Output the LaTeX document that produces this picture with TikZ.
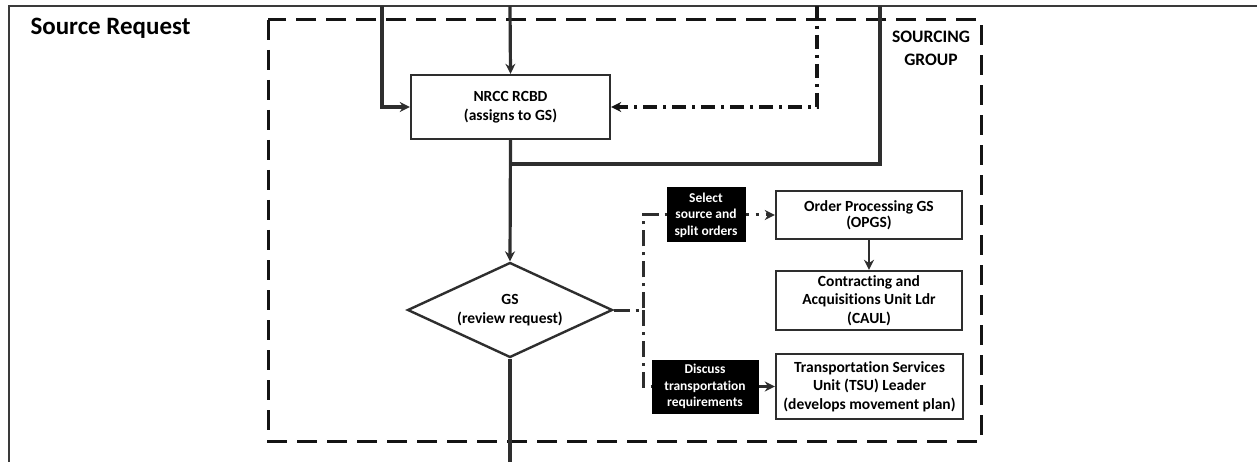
\documentclass[tikz,border=0pt]{standalone}
\usepackage{fontspec}
\setmainfont{Carlito}[Ligatures={NoCommon,NoContextual}]
\usetikzlibrary{shapes.geometric,arrows.meta}
\definecolor{ink}{HTML}{2E2E2E}
\definecolor{frameink}{HTML}{3A3A3A}
\begin{document}
\begin{tikzpicture}[x=1pt,y=-1pt,
  boxfont/.style={font=\bfseries\fontsize{15.5}{18.5}\selectfont},
  proc/.style={draw=ink, line width=2.4pt, fill=white, boxfont, align=center,
    inner sep=0pt},
  tag/.style={draw=black, fill=black, text=white, line width=1pt, align=center,
    inner sep=0pt, font=\bfseries\fontsize{13.5}{16.5}\selectfont},
  decision/.style={diamond, draw=ink, line width=2.4pt, fill=white, boxfont,
    align=center, inner sep=0pt, aspect=2.16},
  tip/.style={-{Stealth[length=10pt,width=10pt]}},
  flow/.style={draw=ink, line width=3.2pt, tip},
  plainflow/.style={draw=ink, line width=3.2pt},
  groupline/.style={draw=black!92, line width=3pt, dash pattern=on 20pt off 10pt},
  feedback/.style={draw=black!92, line width=3.6pt, dash pattern=on 14pt off 6pt on 3pt off 6pt},
  consult/.style={draw=ink, line width=3pt, dash pattern=on 16pt off 6pt on 3pt off 6pt},
  dotflow/.style={draw=ink, line width=3pt, dash pattern=on 3pt off 7pt, tip},
]
\useasboundingbox (0,0) rectangle (1257,462);

% swim-lane frame
\draw[draw=frameink, line width=2.6pt] (9,462) -- (9,6) -- (1257,6);
\node[anchor=west, font=\bfseries\fontsize{25}{28}\selectfont] (title) at (27,28) {Source Request};

% sourcing group boundary
\draw[groupline] (268,20) rectangle (981,441);
\node[font=\bfseries\fontsize{17.5}{23}\selectfont, align=center] (grp) at (931,48) {SOURCING\\GROUP};

% nodes
\node[proc, minimum width=199pt, minimum height=64pt] (nrcc) at (510.5,107) {NRCC RCBD\\(assigns to GS)};
\node[decision, minimum width=205pt, minimum height=95pt] (gs) at (510,310) {GS\\(review request)};
\node[tag, minimum width=78pt, minimum height=54pt] (select) at (706,215) {Select\\source and\\split orders};
\node[tag, minimum width=106pt, minimum height=53pt] (discuss) at (705,386.5) {Discuss\\transportation\\requirements};
\node[proc, minimum width=186pt, minimum height=48pt, font=\bfseries\fontsize{15.5}{15.5}\selectfont] (opgs) at (869,215) {Order Processing GS\\(OPGS)};
\node[proc, minimum width=186pt, minimum height=59pt] (caul) at (869,300.5) {Contracting and\\Acquisitions Unit Ldr\\(CAUL)};
\node[proc, minimum width=187pt, minimum height=65pt] (tsu) at (869.5,386.5) {Transportation Services\\Unit (TSU) Leader\\(develops movement plan)};

% free ends and bends
\coordinate (inA) at (382,6);
\coordinate (inB) at (510,6);
\coordinate (inC) at (817,6);
\coordinate (inD) at (880,6);
\coordinate (joinD) at (880,164);
\coordinate (merge) at (510,164);
\coordinate (out) at (510,462);
\coordinate (split) at (643,310);

% incoming flows
\draw[flow] (inA) |- (nrcc.west);
\draw[flow] (inB) -- (nrcc.north);
\draw[feedback, tip] (inC) |- (nrcc.east);
\draw[plainflow] (inD) -- (joinD) -- (merge);
\draw[flow] (nrcc.south) -- (gs.north);
\draw[plainflow] (gs.south) -- (out);

% coordination branches
\draw[consult] (gs.east) -- (split) |- (select.west);
\draw[consult] (split) |- (discuss.west);
\draw[dotflow] (select.east) -- (opgs.west);
\draw[flow, line width=2.8pt] (opgs.south) -- (caul.north);
\draw[flow, line width=2.8pt] (discuss.east) -- (tsu.west);
\end{tikzpicture}
\end{document}
